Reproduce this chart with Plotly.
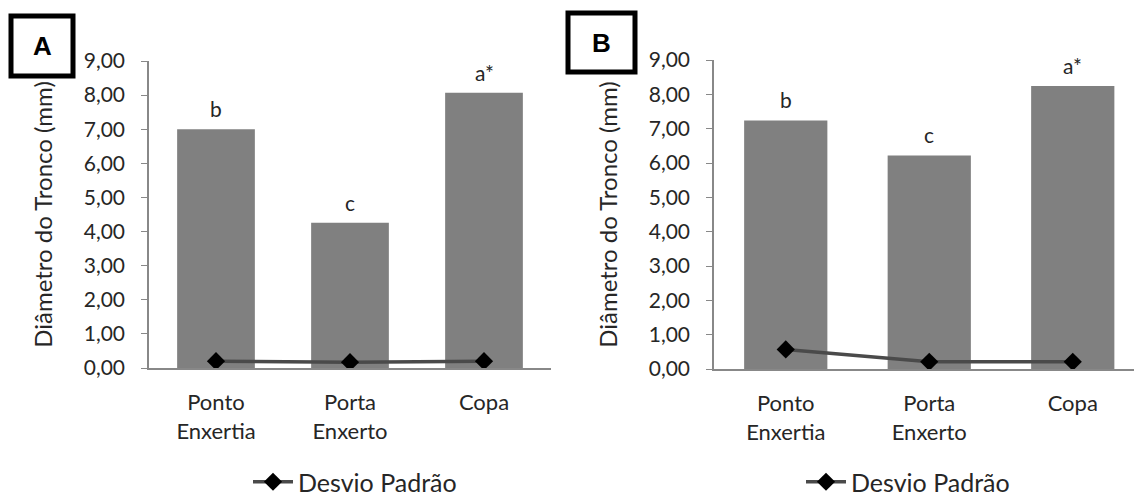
import plotly.graph_objects as go

# Categories and values for the two panels
categorias = ["Ponto<br>Enxertia", "Porta<br>Enxerto", "Copa"]

diametro_a = [7.00, 4.26, 8.07]
desvio_a = [0.20, 0.17, 0.20]
letras_a = ["b", "c", "a*"]

diametro_b = [7.24, 6.22, 8.24]
desvio_b = [0.57, 0.21, 0.21]
letras_b = ["b", "c", "a*"]

y_ticks = [0, 1, 2, 3, 4, 5, 6, 7, 8, 9]

FONT = "Lato"
BAR_COLOR = "#808080"
LINE_COLOR = "#4a4a4a"
AXIS_COLOR = "#888888"
TEXT_COLOR = "#262626"

W, H = 1134, 496

fig = go.Figure()

panels = [
    dict(vals=diametro_a, sd=desvio_a, letters=letras_a, xa="x", ya="y",
         legend="legend", x0=149, x1=551, y9=61, y0=368, xmax=2.5),
    dict(vals=diametro_b, sd=desvio_b, letters=letras_b, xa="x2", ya="y2",
         legend="legend2", x0=714, x1=1134, y9=60, y0=369,
         xmax=-0.5 + (1134 - 714) / 143.5),
]

for p in panels:
    fig.add_trace(go.Bar(
        x=categorias, y=p["vals"], xaxis=p["xa"], yaxis=p["ya"],
        marker=dict(color=BAR_COLOR, line=dict(width=0)),
        showlegend=False, hoverinfo="y",
    ))
    fig.add_trace(go.Scatter(
        x=categorias, y=p["sd"], xaxis=p["xa"], yaxis=p["ya"],
        mode="lines+markers", name="Desvio Padrão",
        line=dict(color=LINE_COLOR, width=3.5),
        marker=dict(symbol="diamond", size=14, color="black"),
        legend=p["legend"], showlegend=True,
    ))
    for cat, v, lab in zip(categorias, p["vals"], p["letters"]):
        fig.add_annotation(
            x=cat, y=v, xref=p["xa"], yref=p["ya"], text=lab,
            showarrow=False, yanchor="bottom", yshift=6,
            font=dict(family=FONT, size=21, color=TEXT_COLOR),
        )

axis_common = dict(
    showline=True, linecolor=AXIS_COLOR, linewidth=1.5,
    showgrid=False, zeroline=False,
)


def y_axis(panel, anchor):
    return dict(
        domain=[1 - panel["y0"] / H, 1 - panel["y9"] / H], range=[0, 9],
        anchor=anchor, tickvals=y_ticks, tickformat=".2f", ticks="outside",
        ticklen=6, tickcolor=AXIS_COLOR, ticklabelstandoff=12,
        tickfont=dict(size=21),
        title=dict(text="Diâmetro do Tronco (mm)", standoff=24,
                   font=dict(size=24)),
        **axis_common,
    )


def x_axis(panel, anchor):
    return dict(
        domain=[panel["x0"] / W, panel["x1"] / W], range=[-0.5, panel["xmax"]],
        anchor=anchor, ticks="", tickfont=dict(size=22),
        ticklabelstandoff=14, **axis_common,
    )


ax_a, ax_b = panels
legend_common = dict(xanchor="left", yanchor="middle", orientation="h",
                     font=dict(size=25), bgcolor="rgba(0,0,0,0)",
                     itemwidth=40)
fig.update_layout(
    width=W, height=H,
    margin=dict(l=0, r=0, t=0, b=0, autoexpand=False),
    paper_bgcolor="white", plot_bgcolor="white",
    separators=",.",
    bargap=0.42,
    font=dict(family=FONT, size=21, color=TEXT_COLOR),
    xaxis=x_axis(ax_a, "y"),
    yaxis=y_axis(ax_a, "x"),
    xaxis2=x_axis(ax_b, "y2"),
    yaxis2=y_axis(ax_b, "x2"),
    legend=dict(x=248 / W, y=1 - 482 / H, **legend_common),
    legend2=dict(x=801 / W, y=1 - 482 / H, **legend_common),
)

# Panel labels in heavy bordered boxes
for label, bx0, by0, bx1, by1 in [("A", 11, 16, 73, 76), ("B", 568, 13, 635, 72)]:
    fig.add_shape(type="rect", xref="paper", yref="paper",
                  x0=bx0 / W, x1=bx1 / W, y0=1 - by1 / H, y1=1 - by0 / H,
                  line=dict(color="black", width=5), fillcolor="white")
    fig.add_annotation(x=(bx0 + bx1) / 2 / W, y=1 - (by0 + by1) / 2 / H,
                       xref="paper", yref="paper", text=f"<b>{label}</b>",
                       showarrow=False, xanchor="center", yanchor="middle",
                       font=dict(family="Liberation Sans", size=26, color="black"))

fig.write_html("out.html")
